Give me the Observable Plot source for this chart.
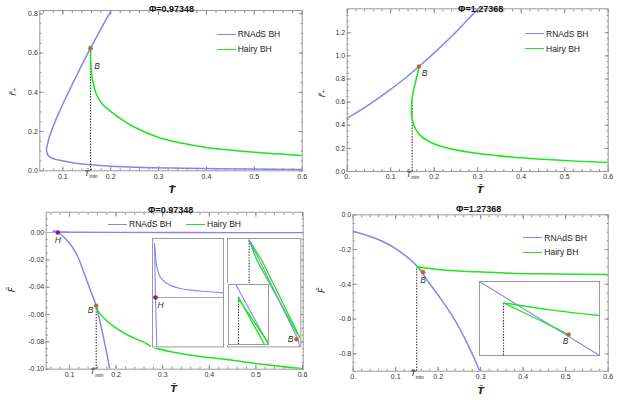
<!DOCTYPE html>
<html><head><meta charset="utf-8">
<script src="https://cdn.jsdelivr.net/npm/d3@7"></script>
<script src="https://cdn.jsdelivr.net/npm/@observablehq/plot@0.6"></script>
<style>
body{margin:0;background:#fff;}
#c{position:relative;width:625px;height:400px;background:#fff;font-family:"Liberation Sans",Arial,sans-serif;overflow:hidden;}
.leg{position:absolute;font-size:8.5px;line-height:10px;color:#222;display:flex;align-items:center;white-space:nowrap;}
.sw{display:inline-block;width:19px;height:0;border-top:1.6px solid;margin-right:2px;}
</style></head><body><div id="c"></div>
<script>
// ---------------- DATA ----------------
const titleA = "Φ=0.97348", titleB = "Φ=1.27368";
const seriesNames = ["RNAdS BH", "Hairy BH"];
const blue = "#8585f2", green = "#1ee41e", brown = "#b3703a", purple = "#8b1a8b";

// Top-left: r+ vs T (Φ=0.97348)
const tlRnT = [0.2017,0.1797,0.1579,0.1255,0.0987,0.0779,0.0674,0.0660,0.0695,0.0779,0.0987,0.1265,0.1579,0.2519,0.3563,0.4920,0.6];
const tlRnR = [0.820,0.723,0.625,0.469,0.333,0.214,0.129,0.104,0.078,0.064,0.051,0.039,0.031,0.018,0.013,0.009,0.007];
const tlHyT = [0.1579,0.1583,0.1599,0.1641,0.1704,0.1823,0.2,0.225,0.25,0.3,0.35,0.4,0.5,0.6];
const tlHyR = [0.625,0.562,0.501,0.440,0.389,0.341,0.303,0.258,0.222,0.170,0.140,0.119,0.094,0.078];
const tlB = [{T:0.1579, v:0.625}];
const tlTmin = [{T:0.1579, v1:0, v2:0.625}];

// Top-right: r+ vs T (Φ=1.27368)
const trRnT = [0,0.046,0.092,0.130,0.165,0.2069,0.2529,0.2989,0.311];
const trRnR = [0.46,0.567,0.688,0.798,0.908,1.05,1.218,1.40,1.447];
const trHyT = [0.165,0.158,0.1508,0.1478,0.1494,0.157,0.1724,0.199,0.2375,0.3064,0.3984,0.498,0.6];
const trHyR = [0.908,0.787,0.672,0.556,0.456,0.369,0.297,0.240,0.196,0.153,0.118,0.095,0.078];
const trB = [{T:0.165, v:0.908}];
const trTmin = [{T:0.1494, v1:0, v2:0.61}];

// Bottom-left: F vs T (Φ=0.97348)
const blRnT = [0.065,0.0749,0.0985,0.1165,0.1307,0.1451,0.1573,0.1665,0.1773,0.1865,0.1895];
const blRnF = [0.00095,0,-0.0071,-0.0168,-0.0290,-0.0424,-0.0536,-0.0668,-0.0839,-0.0997,-0.1034];
const blRnSmallT = [0.065,0.075,0.09,0.12,0.2,0.35,0.6];
const blRnSmallF = [0.00095,0.0006,0.0004,0.00025,0.0001,0.00004,0.00001];
const blHyT = [0.1573,0.1629,0.1809,0.2024,0.2309,0.2594,0.2796,0.3238,0.3811,0.4526,0.524,0.6];
const blHyF = [-0.0536,-0.0583,-0.0649,-0.0705,-0.0761,-0.0802,-0.0839,-0.0876,-0.0907,-0.0936,-0.0968,-0.0997];
const blB = [{T:0.1573, v:-0.0536}];
const blH = [{T:0.0749, v:0}];
const blTmin = [{T:0.1573, v1:-0.1, v2:-0.0536}];

// Bottom-right: F vs T (Φ=1.27368)
const brRnT = [0,0.0487,0.088,0.1274,0.151,0.1746,0.206,0.2374,0.269,0.2987,0.302];
const brRnF = [-0.0944,-0.1324,-0.1767,-0.244,-0.2976,-0.378,-0.4835,-0.5986,-0.7425,-0.906,-0.93];
const brHyUpT = [0.1494,0.206,0.2926,0.3712,0.4497,0.6];
const brHyUpF = [-0.2975,-0.3166,-0.328,-0.336,-0.3396,-0.3436];
const brHyLoT = [0.1494,0.157,0.1642];
const brHyLoF = [-0.2975,-0.313,-0.330];
const brB = [{T:0.1642, v:-0.330}];
const brTmin = [{T:0.1494, v1:-0.9, v2:-0.2975}];

// Insets (normalised zoom coordinates)
const in1BlueAU = [0.028,0.042,0.062], in1BlueAV = [0.95,0.456,-0.02];
const in1BlueBU = [0.028,0.04,0.062,0.108,0.203,0.39,0.672,1.0], in1BlueBV = [0.95,0.87,0.738,0.646,0.585,0.539,0.515,0.498];
const in1H = [{u:0.042, v:0.456}];
const in2GreenAU = [0.295,0.40,0.955], in2GreenAV = [0.985,0.80,0.117];
const in2BlueU = [0.295,0.436,0.968,0.986], in2BlueV = [0.985,0.80,0.062,0.0];
const in2GreenBU = [0.295,0.468,0.986], in2GreenBV = [0.985,0.80,0.087];
const in2B = [{u:0.941, v:0.071}];
const in2Dot = [{u:0.295, v1:0.578, v2:1}];
const in3BlueU = [0.183,0.99], in3BlueV = [1.0,0.012];
const in3GreenAU = [0.25,0.89], in3GreenAV = [0.788,0.012];
const in3GreenBU = [0.265,0.99], in3GreenBV = [0.745,0.033];
const in3Dot = [{u:0.25, v1:0, v2:0.788}];
const in4BlueU = [0,1], in4BlueV = [1,0];
const in4GreenUpU = [0.2,0.589,1.0], in4GreenUpV = [0.712,0.617,0.54];
const in4GreenLoU = [0.2,0.506,0.742], in4GreenLoV = [0.712,0.473,0.284];
const in4B = [{u:0.742, v:0.284}];
const in4Dot = [{u:0.2, v1:0, v2:0.712}];

// Ticks
const xTicks01 = [0.1,0.2,0.3,0.4,0.5,0.6];
const xTicks0 = [0,0.1,0.2,0.3,0.4,0.5,0.6];
const tlYTicks = [0,0.2,0.4,0.6,0.8];
const trYTicks = [0,0.2,0.4,0.6,0.8,1.0,1.2];
const blYTicks = [0,-0.02,-0.04,-0.06,-0.08,-0.1];
const brYTicks = [0,-0.2,-0.4,-0.6,-0.8];

// ---------------- HELPERS ----------------
const C = document.getElementById("c");
const zip = (X, Y) => X.map((x, i) => ({x, y: Y[i]}));
const fmt1 = d => d === 0 ? "0." : d.toFixed(1);
const fmtY1 = d => d.toFixed(1);
const fmtY2 = d => Math.abs(d) < 1e-9 ? "0.00" : d.toFixed(2);
const rng = (a, b, s) => d3.range(Math.round(a / s), Math.round(b / s) + 1).map(k => +(k * s).toFixed(6));

function frameAxes(xMaj, xMin, xFmt, yMaj, yMin, yFmt) {
  const tc = "#8c8c8c", none = () => "";
  const o = (a, s) => ({anchor: a, tickSize: s, tickFormat: none, stroke: tc});
  return [
    Plot.axisX(xMin, o("bottom", -2)), Plot.axisX(xMaj, o("bottom", -4)),
    Plot.axisX(xMin, o("top", -2)), Plot.axisX(xMaj, o("top", -4)),
    Plot.axisY(yMin, o("left", -2)), Plot.axisY(yMaj, o("left", -4)),
    Plot.axisY(yMin, o("right", -2)), Plot.axisY(yMaj, o("right", -4)),
    Plot.axisX(xMaj, {anchor: "bottom", tickSize: 0, tickPadding: 3, tickFormat: xFmt, fill: "#333", fontSize: 7}),
    Plot.axisY(yMaj, {anchor: "left", tickSize: 0, tickPadding: 2, tickFormat: yFmt, fill: "#333", fontSize: 7}),
    Plot.frame({stroke: "#9a9a9a"})
  ];
}
function labels({title, tdx, tdy, xdx, xdy, yl, ydx, ydy, tmin}) {
  const m = [
    Plot.text([title], {frameAnchor: "top", dx: tdx, dy: tdy, fontWeight: "bold", fontSize: 9, fill: "#111"}),
    Plot.text(["T̃"], {frameAnchor: "bottom", dx: xdx, dy: xdy, fontSize: 9.5, fontWeight: "bold", fontStyle: "italic", fill: "#222", fontFamily: "DejaVu Sans"}),
    Plot.text([yl], {frameAnchor: "left", dx: ydx, dy: ydy, rotate: -90, fontSize: 9, fontStyle: "italic", fill: "#222", fontFamily: "DejaVu Sans"})
  ];
  if (tmin) {
    m.push(Plot.text(tmin, {x: "T", frameAnchor: "bottom", dx: -3.5, dy: 5, text: () => "T̃", fontSize: 7.5, fontStyle: "italic", fill: "#222", fontFamily: "DejaVu Sans"}));
    m.push(Plot.text(tmin, {x: "T", frameAnchor: "bottom", dx: -1, dy: 7.5, text: () => "min", textAnchor: "start", fontSize: 5, fill: "#222"}));
  }
  return m;
}
function place(svg, left, top) {
  svg.style.position = "absolute"; svg.style.left = left + "px"; svg.style.top = top + "px";
  C.appendChild(svg);
}
const baseStyle = {background: "transparent", overflow: "visible", fontFamily: "'Liberation Sans', Arial, sans-serif", fontSize: "7px", color: "#333"};
function panel(o) {
  const svg = Plot.plot({
    width: o.w, height: o.h, marginLeft: o.ml, marginRight: o.mr, marginTop: o.mt, marginBottom: o.mb,
    x: {domain: o.xd}, y: {domain: o.yd}, style: baseStyle, marks: o.marks
  });
  place(svg, o.left, o.top);
}
function inset(o) {
  const svg = Plot.plot({
    width: o.w + 2, height: o.h + 2, margin: 1,
    x: {domain: [0, 1], axis: null}, y: {domain: [0, 1], axis: null},
    style: {...baseStyle, background: "white"}, marks: [...o.marks, Plot.frame({stroke: "#9a9a9a"})]
  });
  place(svg, o.left - 1, o.top - 1);
}
const ln = (X, Y, c, w = 1.5, curve = "catmull-rom") => Plot.line(zip(X, Y), {x: "x", y: "y", stroke: c, strokeWidth: w, curve, clip: true});
const lnI = (X, Y, c, w) => ln(X, Y, c, w, "linear");
const dotted = (d, X = "T") => Plot.ruleX(d, {x: X, y1: "v1", y2: "v2", stroke: "#333", strokeWidth: 1.1, strokeDasharray: "1.4,1.4"});
const pt = (d, c, X = "T", Y = "v") => Plot.dot(d, {x: X, y: Y, r: 2.3, fill: c});
const lab = (d, t, dx, dy, X = "T", Y = "v") => Plot.text(d, {x: X, y: Y, text: () => t, dx, dy, fontSize: 8.5, fontStyle: "italic", fill: "#333"});

// ---------------- TOP-LEFT ----------------
panel({left: 0, top: 0, w: 312, h: 200, ml: 39.3, mr: 10.3, mt: 10, mb: 29.7, xd: [0.052, 0.6], yd: [0, 0.817],
  marks: [
    ...frameAxes(xTicks01, rng(0.06, 0.6, 0.02), fmt1, tlYTicks, rng(0, 0.8, 0.05), fmtY1),
    ln(tlRnT, tlRnR, blue), dotted(tlTmin), ln(tlHyT, tlHyR, green),
    pt(tlB, brown), lab(tlB, "B", 6.5, 18),
    ...labels({title: titleA, tdx: 0.5, tdy: -5, yl: "r̃₊", ydx: -27, ydy: 5, xdx: 1, xdy: 22.5, tmin: tlTmin})
  ]});

// ---------------- TOP-RIGHT ----------------
panel({left: 312, top: 0, w: 313, h: 200, ml: 34.7, mr: 17.3, mt: 8.3, mb: 29, xd: [0, 0.6], yd: [0, 1.407],
  marks: [
    ...frameAxes(xTicks0, rng(0, 0.6, 0.02), fmt1, trYTicks, rng(0, 1.4, 0.05), fmtY1),
    ln(trRnT, trRnR, blue), dotted(trTmin), ln(trHyT, trHyR, green),
    pt(trB, brown), lab(trB, "B", 5.5, 7),
    ...labels({title: titleB, tdx: 3, tdy: -3.5, yl: "r̃₊", ydx: -25, ydy: 7, xdx: 2.5, xdy: 21.7, tmin: trTmin})
  ]});

// ---------------- BOTTOM-LEFT ----------------
panel({left: 0, top: 198, w: 312, h: 202, ml: 45.7, mr: 9.3, mt: 13.7, mb: 31.3, xd: [0.05, 0.6015], yd: [-0.1, 0.0149],
  marks: [
    ...frameAxes(xTicks01, rng(0.06, 0.6, 0.02), fmt1, blYTicks, rng(-0.1, 0.01, 0.005), fmtY2),
    Plot.ruleY([0], {stroke: "#b0b0b0", strokeWidth: 1}),
    ln(blRnSmallT, blRnSmallF, blue, 1.3), ln(blRnT, blRnF, blue), dotted(blTmin), ln(blHyT, blHyF, green),
    pt(blB, brown), lab(blB, "B", -5.5, 4), pt(blH, purple), lab(blH, "H", 0, 7.5),
    ...labels({title: titleA, tdx: -4, tdy: -5.7, yl: "F̃", ydx: -34, ydy: 1.5, xdx: -1, xdy: 23, tmin: blTmin})
  ]});

// ---------------- BOTTOM-RIGHT ----------------
panel({left: 312, top: 198, w: 313, h: 202, ml: 40.7, mr: 17.3, mt: 16.3, mb: 29.3, xd: [0, 0.6], yd: [-0.9, 0],
  marks: [
    ...frameAxes(xTicks0, rng(0, 0.6, 0.02), fmt1, brYTicks, rng(-0.9, 0, 0.05), fmtY1),
    ln(brRnT, brRnF, blue), dotted(brTmin), ln(brHyUpT, brHyUpF, green), ln(brHyLoT, brHyLoF, green),
    pt(brB, brown), lab(brB, "B", 0, 8),
    ...labels({title: titleB, tdx: -2, tdy: -9.3, yl: "F̃", ydx: -31, ydy: 0, xdx: 0, xdy: 22.6, tmin: brTmin})
  ]});

// ---------------- INSETS ----------------
inset({left: 152.3, top: 238.3, w: 71, h: 108.4, marks: [
  Plot.ruleY([0.456], {stroke: "#a8a8a8"}),
  ln(in1BlueBU, in1BlueBV, blue, 1.1), lnI(in1BlueAU, in1BlueAV, blue, 1.1),
  pt(in1H, purple, "u", "v"), lab(in1H, "H", 5, 8, "u", "v")
]});
inset({left: 226.7, top: 238.3, w: 73.3, h: 108.4, marks: [
  dotted(in2Dot, "u"),
  lnI(in2GreenAU, in2GreenAV, green, 1.3), lnI(in2GreenBU, in2GreenBV, green, 1.3), lnI(in2BlueU, in2BlueV, blue, 1.1),
  pt(in2B, brown, "u", "v"), lab(in2B, "B", -6, 0.5, "u", "v")
]});
inset({left: 227.7, top: 284, w: 40, h: 60, marks: [
  dotted(in3Dot, "u"),
  lnI(in3BlueU, in3BlueV, blue, 1.1), lnI(in3GreenAU, in3GreenAV, green, 1.3), lnI(in3GreenBU, in3GreenBV, green, 1.3)
]});
inset({left: 479.3, top: 281, w: 120, h: 74, marks: [
  dotted(in4Dot, "u"),
  lnI(in4BlueU, in4BlueV, blue, 1.1), ln(in4GreenUpU, in4GreenUpV, green, 1.3), ln(in4GreenLoU, in4GreenLoV, green, 1.3),
  pt(in4B, brown, "u", "v"), lab(in4B, "B", -3, 7, "u", "v")
]});

// ---------------- LEGENDS ----------------
function legendItem(left, y, color, label) {
  const d = document.createElement("div");
  d.className = "leg"; d.style.left = left + "px"; d.style.top = (y - 5) + "px";
  d.innerHTML = `<span class="sw" style="border-color:${color}"></span>${label}`;
  C.appendChild(d);
}
legendItem(216.7, 34, blue, seriesNames[0]); legendItem(216.7, 49, green, seriesNames[1]);
legendItem(525, 33.5, blue, seriesNames[0]); legendItem(525, 48.7, green, seriesNames[1]);
legendItem(108, 224, blue, seriesNames[0]); legendItem(186, 224, green, seriesNames[1]);
legendItem(523.3, 237.7, blue, seriesNames[0]); legendItem(523.3, 252.3, green, seriesNames[1]);
</script></body></html>
